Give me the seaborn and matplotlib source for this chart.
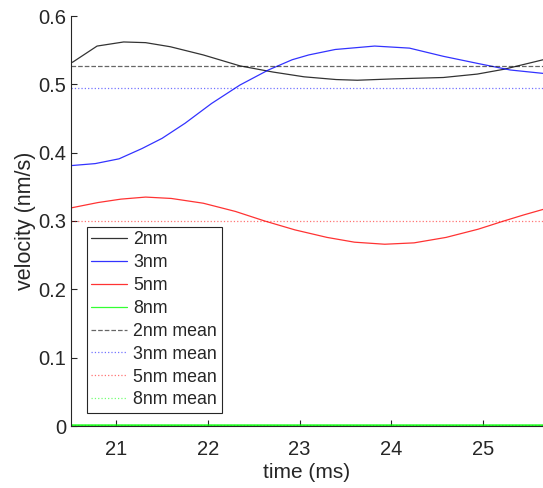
import matplotlib
matplotlib.use("Agg")
import matplotlib.pyplot as plt
import seaborn as sns
import numpy as np

# ---- data ----
t_2nm = [20.50, 20.53, 20.79, 21.08, 21.32, 21.59, 21.95, 22.35, 22.71, 23.05, 23.40, 23.63, 24.03, 24.57, 24.94, 25.23, 25.66]
v_2nm = [0.531, 0.533, 0.556, 0.562, 0.561, 0.555, 0.543, 0.527, 0.518, 0.511, 0.507, 0.506, 0.508, 0.510, 0.515, 0.522, 0.536]

t_3nm = [20.50, 20.77, 21.03, 21.28, 21.50, 21.75, 22.04, 22.35, 22.66, 22.92, 23.10, 23.39, 23.82, 24.20, 24.57, 24.93, 25.30, 25.66]
v_3nm = [0.381, 0.384, 0.391, 0.406, 0.421, 0.443, 0.472, 0.499, 0.521, 0.536, 0.543, 0.551, 0.556, 0.553, 0.541, 0.531, 0.521, 0.516]

t_5nm = [20.50, 20.80, 21.05, 21.32, 21.60, 21.95, 22.30, 22.62, 22.95, 23.30, 23.60, 23.93, 24.25, 24.60, 24.95, 25.23, 25.45, 25.66]
v_5nm = [0.319, 0.327, 0.332, 0.335, 0.333, 0.326, 0.314, 0.300, 0.287, 0.276, 0.269, 0.266, 0.268, 0.276, 0.288, 0.300, 0.309, 0.317]

t_8nm = [20.50, 25.66]
v_8nm = [0.001, 0.001]

series_names = ["2nm", "3nm", "5nm", "8nm"]
series_colors = ["#000000", "#0000ff", "#ff0000", "#00ff00"]
series_widths = [0.9, 0.9, 0.9, 1.8]
mean_values = [0.527, 0.495, 0.300, 0.001]
mean_styles = ["--", ":", ":", ":"]

x_ticks = [21, 22, 23, 24, 25]
y_ticks = [0, 0.1, 0.2, 0.3, 0.4, 0.5, 0.6]
y_tick_labels = ["0", "0.1", "0.2", "0.3", "0.4", "0.5", "0.6"]

# ---- style ----
sns.set_style("ticks")
plt.rcParams["font.family"] = ["Liberation Sans", "DejaVu Sans"]
plt.rcParams["xtick.direction"] = "in"
plt.rcParams["ytick.direction"] = "in"

fig = plt.figure(figsize=(5.43, 4.88), dpi=100)
ax = fig.add_axes([70.5 / 543, 62 / 488, 472.7 / 543, 410 / 488])

ts = [t_2nm, t_3nm, t_5nm, t_8nm]
vs = [v_2nm, v_3nm, v_5nm, v_8nm]
for name, col, lw, t, v in zip(series_names, series_colors, series_widths, ts, vs):
    sns.lineplot(x=t, y=v, color=col, linewidth=lw, label=name, ax=ax, alpha=0.8)

for name, col, m, ls in zip(series_names, series_colors, mean_values, mean_styles):
    ax.axhline(m, color=col, linestyle=ls, linewidth=0.9, alpha=0.6 if ls == "--" else 0.55,
               label=name + " mean")

ax.set_xlim(20.5, 25.66)
ax.set_ylim(0, 0.6)
ax.set_xticks(x_ticks)
ax.set_yticks(y_ticks)
ax.set_yticklabels(y_tick_labels)

tick_color = "#262626"
ax.tick_params(axis="both", labelsize=14.5, colors=tick_color, length=4, width=0.8)
ax.tick_params(axis="x", pad=10)
ax.tick_params(axis="y", pad=3)
for s in ["left", "bottom"]:
    ax.spines[s].set_color(tick_color)
    ax.spines[s].set_linewidth(0.8)
sns.despine(ax=ax)

ax.set_xlabel("time (ms)", fontsize=15, color=tick_color, labelpad=3)
ax.set_ylabel("velocity (nm/s)", fontsize=15.5, color=tick_color, labelpad=2)

leg = ax.legend(loc="lower left", bbox_to_anchor=(0.034, 0.032), borderaxespad=0,
                fontsize=12.8, frameon=True, fancybox=False, framealpha=1,
                edgecolor="#262626", handlelength=2.05, handletextpad=0.33,
                labelspacing=0.33, borderpad=0.25)
leg.get_frame().set_linewidth(0.8)
for line in leg.get_lines():
    line.set_linewidth(0.9)
for txt in leg.get_texts():
    txt.set_color(tick_color)

fig.savefig("out.png", dpi=100)
